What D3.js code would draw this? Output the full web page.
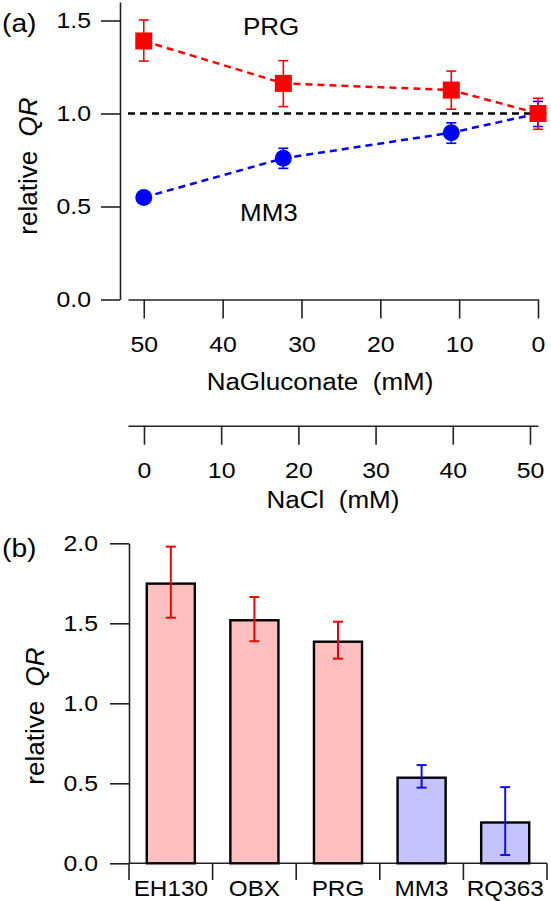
<!DOCTYPE html>
<html><head><meta charset="utf-8">
<script src="https://cdn.jsdelivr.net/npm/d3@7"></script>
<style>
body{margin:0;background:#fff;}
svg{display:block;font-family:"Liberation Sans",Arial,Helvetica,sans-serif;}
</style></head><body>
<svg id="chart" width="551" height="901"></svg>
<script>
// ---------- Panel (a) data ----------
const gluconate = [50, 32.3, 11, 0];           // NaGluconate (mM)
const prgQR  = [1.39, 1.162, 1.126, 1.0];
const prgLo  = [1.282, 1.037, 1.023, 0.915];
const prgHi  = [1.503, 1.284, 1.228, 1.082];
const mm3QR  = [0.549, 0.759, 0.897, 1.0];
const mm3Lo  = [0.53, 0.705, 0.84, 0.93];
const mm3Hi  = [0.57, 0.813, 0.95, 1.065];
const topYTicks = [0, 0.5, 1.0, 1.5];
const gluconateTicks = [50, 40, 30, 20, 10, 0];
const naclTicks = [0, 10, 20, 30, 40, 50];
// ---------- Panel (b) data ----------
const strains = ["EH130", "OBX", "PRG", "MM3", "RQ363"];
const barQR = [1.748, 1.519, 1.385, 0.535, 0.255];
const barLo = [1.535, 1.388, 1.279, 0.473, 0.052];
const barHi = [1.979, 1.664, 1.51, 0.614, 0.476];
const barGroup = ["PRG-like", "PRG-like", "PRG-like", "MM3-like", "MM3-like"];
const bottomYTicks = [0, 0.5, 1.0, 1.5, 2.0];

const svg = d3.select("#chart");
const S = 1.13; // horizontal text stretch seen in the reference
function stretch(sel){
  sel.each(function(){
    const t = d3.select(this);
    const x = +(t.attr("x") || 0);
    t.attr("x", x / S).attr("transform", `scale(${S},1)`);
  });
}
const AX = "#222";

// ---------- Panel (a) ----------
const yA = d3.scaleLinear().domain([0, 1.6]).range([299.5, 1.9]);
const xG = d3.scaleLinear().domain([52, 0]).range([128, 538]);
const xN = d3.scaleLinear().domain([-2.07, 51.04]).range([128, 538]);

function styleAxis(g, fs){
  g.selectAll("path.domain").attr("stroke", AX).attr("stroke-width", 1.6);
  g.selectAll(".tick line").attr("stroke", AX).attr("stroke-width", 1.6);
  g.selectAll(".tick text").attr("fill", "#000").attr("font-size", fs)
    .attr("font-family", "Liberation Sans, Arial, sans-serif");
}

const gYA = svg.append("g").attr("transform", "translate(120,0)")
  .call(d3.axisLeft(yA).tickValues(topYTicks).tickFormat(d3.format(".1f"))
    .tickSize(19).tickSizeOuter(0).tickPadding(10));
styleAxis(gYA, 22); stretch(gYA.selectAll(".tick text"));

const gXG = svg.append("g").attr("transform", "translate(0,299.5)")
  .call(d3.axisBottom(xG).tickValues(gluconateTicks).tickFormat(d3.format("d"))
    .tickSize(19).tickSizeOuter(0).tickPadding(18));
styleAxis(gXG, 22); stretch(gXG.selectAll(".tick text"));

const gXN = svg.append("g").attr("transform", "translate(0,425.7)")
  .call(d3.axisBottom(xN).tickValues(naclTicks).tickFormat(d3.format("d"))
    .tickSize(19).tickSizeOuter(0).tickPadding(18));
styleAxis(gXN, 22); stretch(gXN.selectAll(".tick text"));

// reference line at 1.0
svg.append("line").attr("x1", 128).attr("x2", 538)
  .attr("y1", yA(1)).attr("y2", yA(1))
  .attr("stroke", "#000").attr("stroke-width", 2.5).attr("stroke-dasharray", "7,5");

function series(vals, lo, hi, color, marker){
  const pts = gluconate.map((g, i) => ({x: xG(g), y: yA(vals[i]), lo: yA(lo[i]), hi: yA(hi[i])}));
  svg.append("path").datum(pts)
    .attr("d", d3.line().x(d => d.x).y(d => d.y))
    .attr("fill", "none").attr("stroke", color).attr("stroke-width", 2.5)
    .attr("stroke-dasharray", "7,5");
  const eg = svg.append("g").attr("stroke", color).attr("stroke-width", 1.6);
  pts.forEach(p => {
    eg.append("line").attr("x1", p.x).attr("x2", p.x).attr("y1", p.lo).attr("y2", p.hi);
    eg.append("line").attr("x1", p.x - 5).attr("x2", p.x + 5).attr("y1", p.lo).attr("y2", p.lo);
    eg.append("line").attr("x1", p.x - 5).attr("x2", p.x + 5).attr("y1", p.hi).attr("y2", p.hi);
  });
  if (marker === "square") {
    svg.append("g").selectAll("rect").data(pts).join("rect")
      .attr("x", d => d.x - 8.5).attr("y", d => d.y - 8.5)
      .attr("width", 17).attr("height", 17).attr("fill", color);
  } else {
    svg.append("g").selectAll("circle").data(pts).join("circle")
      .attr("cx", d => d.x).attr("cy", d => d.y).attr("r", 8.5).attr("fill", color);
  }
}
series(mm3QR, mm3Lo, mm3Hi, "#0000ff", "circle");
series(prgQR, prgLo, prgHi, "#ff0000", "square");

function label(x, y, txt, fs, anchor){
  const t = svg.append("text").attr("x", x).attr("y", y).attr("font-size", fs)
    .attr("text-anchor", anchor || "start").attr("fill", "#000").text(txt);
  stretch(t);
  return t;
}
label(243, 35, "PRG", 23);
label(240, 221, "MM3", 23);
label(2, 32, "(a)", 25);
label(320, 390.5, "NaGluconate  (mM)", 23, "middle").attr("xml:space", "preserve").style("white-space", "pre");
label(333, 508, "NaCl  (mM)", 23, "middle").style("white-space", "pre");

function yTitle(x, y){
  const t = svg.append("text").attr("transform", `translate(${x},${y}) rotate(-90)`)
    .attr("text-anchor", "middle").attr("font-size", 26).attr("fill", "#000")
    .style("white-space", "pre");
  t.append("tspan").text("relative  ");
  t.append("tspan").attr("font-style", "italic").text("QR");
}
yTitle(37, 166);

// ---------- Panel (b) ----------
const yB = d3.scaleLinear().domain([0, 2]).range([863.3, 543.3]);
const xB = d3.scaleBand().domain(strains).range([129, 547]).padding(0);

const gYB = svg.append("g").attr("transform", "translate(129,0)")
  .call(d3.axisLeft(yB).tickValues(bottomYTicks).tickFormat(d3.format(".1f"))
    .tickSize(19).tickSizeOuter(0).tickPadding(12));
styleAxis(gYB, 22); stretch(gYB.selectAll(".tick text"));

// x axis line and category separators
svg.append("line").attr("x1", 129).attr("x2", 547).attr("y1", yB(0)).attr("y2", yB(0))
  .attr("stroke", AX).attr("stroke-width", 1.6);
const seps = strains.map(s => xB(s)).concat([xB(strains[strains.length - 1]) + xB.bandwidth()]);
svg.append("g").selectAll("line").data(seps).join("line")
  .attr("x1", d => d).attr("x2", d => d).attr("y1", yB(0)).attr("y2", 880)
  .attr("stroke", AX).attr("stroke-width", 1.6);

const barW = xB.bandwidth() * 0.575;
const fills = {"PRG-like": "#ffbfbf", "MM3-like": "#c4c3ff"};
const errC = {"PRG-like": "#ee0000", "MM3-like": "#1010ee"};
svg.append("g").selectAll("rect").data(strains).join("rect")
  .attr("x", (d) => xB(d) + xB.bandwidth() / 2 - barW / 2)
  .attr("y", (d, i) => yB(barQR[i]))
  .attr("width", barW)
  .attr("height", (d, i) => yB(0) - yB(barQR[i]))
  .attr("fill", (d, i) => fills[barGroup[i]])
  .attr("stroke", "#000").attr("stroke-width", 2.4);

strains.forEach((s, i) => {
  const cx = xB(s) + xB.bandwidth() / 2;
  const g = svg.append("g").attr("stroke", errC[barGroup[i]]).attr("stroke-width", 2);
  g.append("line").attr("x1", cx).attr("x2", cx).attr("y1", yB(barLo[i])).attr("y2", yB(barHi[i]));
  g.append("line").attr("x1", cx - 5).attr("x2", cx + 5).attr("y1", yB(barLo[i])).attr("y2", yB(barLo[i]));
  g.append("line").attr("x1", cx - 5).attr("x2", cx + 5).attr("y1", yB(barHi[i])).attr("y2", yB(barHi[i]));
  label(cx, 896, s, 21.5, "middle");
});

label(2, 557, "(b)", 25);
yTitle(44, 716);
</script>
</body></html>
